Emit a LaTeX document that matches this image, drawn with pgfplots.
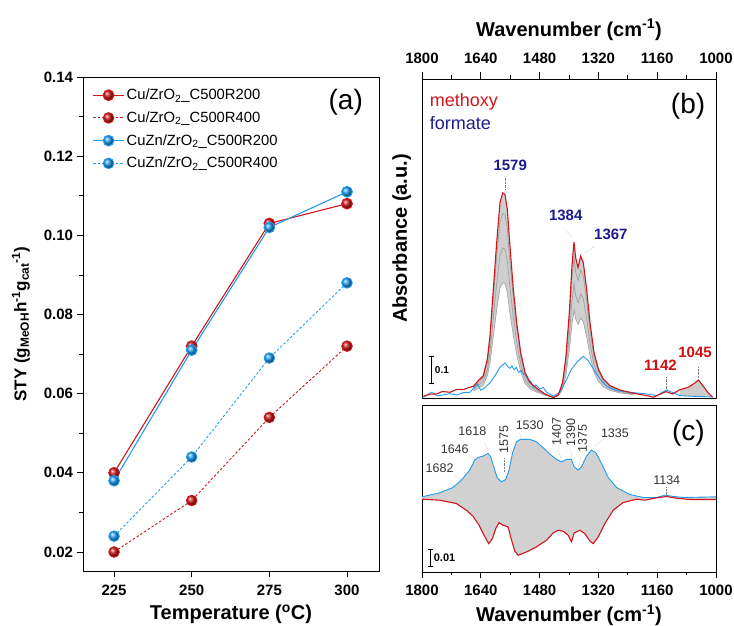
\documentclass[border=0pt]{standalone}
\usepackage{pgfplots}
\pgfplotsset{compat=1.18}
\usepackage{fontspec}
\setmainfont{Liberation Sans}

\definecolor{cured}{HTML}{D0161B}
\definecolor{cublue}{HTML}{1E9BF0}
\definecolor{navy}{HTML}{1C1C8E}
\definecolor{lblred}{HTML}{D01010}
\definecolor{specgray}{HTML}{A0A0A0}

\newcommand{\fsz}[1]{\fontsize{#1}{#1}\selectfont}

\pgfplotsset{
  panel/.style={
    scale only axis,
    /pgf/number format/assume math mode=true,
    /pgf/number format/1000 sep={},
    tick align=outside,
    major tick length=6.5pt,
    minor tick length=3.5pt,
    every tick/.style={black, line width=0.8pt},
    axis line style={line width=0.9pt},
    ticklabel style={font=\fsz{15}\bfseries},
    label style={font=\fsz{20}\bfseries},
  },
  spec/.style={
    panel,
    width=294pt,
    xmin=1000, xmax=1800, x dir=reverse,
    xtick={1000,1160,1320,1480,1640,1800},
    minor xtick={1080,1240,1400,1560,1720},
    ytick=\empty,
    clip=false,
  },
}

\begin{document}
\begin{tikzpicture}
\useasboundingbox (0pt,0pt) rectangle (734pt,626pt);

% ---------------- (a) space-time yield ----------------
\begin{axis}[
  panel,
  at={(83pt,55pt)}, anchor=south west,
  width=296pt, height=494pt,
  xmin=215, xmax=310.3, ymin=0.0152, ymax=0.14,
  xtick={225,250,275,300},
  ytick={0.02,0.04,0.06,0.08,0.10,0.12,0.14},
  minor ytick={0.03,0.05,0.07,0.09,0.11,0.13},
  tick pos=left,
  yticklabel style={/pgf/number format/.cd, fixed, fixed zerofill, precision=2},
  xticklabel style={yshift=-4pt},
  xlabel={Temperature (\textsuperscript{o}C)},
  xlabel style={yshift=-2pt},
  ylabel={STY (g\textsubscript{MeOH}h\textsuperscript{-1}g\textsubscript{cat}\textsuperscript{-1})},
  ylabel style={font=\fsz{17}\bfseries, yshift=7pt},
  legend style={draw=none, fill=none, at={(0.028,0.982)}, anchor=north west,
    font=\fsz{14.8}, row sep=6.5pt, inner sep=1pt},
  legend cell align=left,
  legend image code/.code={\draw[mark repeat=2,mark phase=2,#1] plot coordinates {(0pt,0pt) (15.5pt,0pt) (31pt,0pt)};},
]
\addplot[cured, line width=1.1pt, mark=ball, mark size=5.3pt, mark options={ball color=cured}]
  coordinates {(225,0.040) (250,0.072) (275,0.103) (300,0.108)};
\addlegendentry{Cu/ZrO\textsubscript{2}\_C500R200}
\addplot[cured, line width=0.9pt, dash pattern=on 2.5pt off 2pt, mark=ball, mark size=5.3pt, mark options={solid, ball color=cured}]
  coordinates {(225,0.020) (250,0.033) (275,0.054) (300,0.072)};
\addlegendentry{Cu/ZrO\textsubscript{2}\_C500R400}
\addplot[cublue, line width=1.1pt, mark=ball, mark size=5.3pt, mark options={ball color=cublue}]
  coordinates {(225,0.038) (250,0.071) (275,0.102) (300,0.111)};
\addlegendentry{CuZn/ZrO\textsubscript{2}\_C500R200}
\addplot[cublue, line width=0.9pt, dash pattern=on 2.5pt off 2pt, mark=ball, mark size=5.3pt, mark options={solid, ball color=cublue}]
  coordinates {(225,0.024) (250,0.044) (275,0.069) (300,0.088)};
\addlegendentry{CuZn/ZrO\textsubscript{2}\_C500R400}
\node[font=\fsz{28}] at (axis cs:299.6,0.1335) {(a)};
\end{axis}

% ---------------- (b) IR spectra, methoxy / formate ----------------
\begin{axis}[
  spec,
  at={(422pt,228pt)}, anchor=south west,
  height=319pt,
  ymin=-0.004, ymax=1.181,
  xtick pos=right, xticklabel pos=right,
  xticklabel style={yshift=5pt},
  xlabel={Wavenumber (cm\textsuperscript{-1})},
  xlabel style={yshift=6pt},
  ylabel={Absorbance (a.u.)},
  ylabel style={yshift=1pt},
]
% dense family of intermediate spectra (band between last and lowest grey spectrum)
\addplot[fill=gray!38, draw=none, forget plot] coordinates {
(1660.3,0.0395) (1646.7,0.0605) (1633.1,0.0790) (1622.2,0.1407) (1615.0,0.2272)
(1605.9,0.4000) (1596.8,0.5728) (1587.8,0.7210) (1580.5,0.7580) (1574.2,0.7518)
(1567.8,0.6963) (1560.6,0.5605) (1551.5,0.4000) (1542.4,0.2765) (1531.5,0.1654)
(1519.7,0.0914) (1506.1,0.0543) (1488.0,0.0321) (1465.3,0.0111) (1442.6,-0.0025)
(1429.0,0.0074) (1417.3,0.0543) (1408.2,0.1531) (1399.1,0.3136) (1391.9,0.4864)
(1386.4,0.5753) (1381.9,0.5173) (1375.5,0.4802) (1368.3,0.5235) (1361.0,0.4988)
(1352.0,0.4000) (1342.9,0.2765) (1332.0,0.1654) (1320.2,0.1037) (1306.6,0.0667)
(1288.5,0.0420) (1261.3,0.0259) (1225.0,0.0136)
(1225,0.008) (1261,0.015) (1288,0.024) (1307,0.038) (1320,0.058) (1332,0.092)
(1343,0.155) (1352,0.224) (1361,0.279) (1368,0.293) (1375,0.269) (1382,0.290)
(1386,0.322) (1392,0.272) (1399,0.176) (1408,0.086) (1417,0.030) (1429,0.004)
(1443,-0.001) (1465,0.006) (1488,0.018) (1506,0.030) (1520,0.051) (1531,0.092)
(1542,0.155) (1551,0.224) (1561,0.314) (1568,0.390) (1574,0.421) (1580,0.424)
(1588,0.404) (1597,0.321) (1606,0.224) (1615,0.127) (1622,0.079) (1633,0.044)
(1660,0.022)} -- cycle;
\addplot[fill=gray!40, draw=none, forget plot] coordinates {
(1100,0.004) (1098.0,0.0272) (1075.3,0.0358) (1057.2,0.0519) (1048.1,0.0630)
(1034.5,0.0395) (1020.9,0.0148) (1009.1,0.002)} -- cycle;
\addplot[specgray, line width=0.7pt] coordinates {
(1660,0.036) (1633,0.071) (1622,0.127) (1615,0.204) (1606,0.360) (1597,0.516)
(1588,0.649) (1580,0.682) (1574,0.677) (1568,0.626) (1561,0.505) (1551,0.360)
(1542,0.249) (1531,0.149) (1520,0.082) (1506,0.049) (1488,0.029) (1465,0.010)
(1443,-0.002) (1429,0.006) (1417,0.049) (1408,0.138) (1399,0.283) (1392,0.437)
(1386,0.518) (1382,0.465) (1375,0.432) (1368,0.472) (1361,0.449) (1352,0.360)
(1343,0.249) (1332,0.149) (1320,0.094) (1307,0.060) (1288,0.038) (1261,0.023) (1225,0.013)};
\addplot[specgray, line width=0.7pt] coordinates {
(1660,0.029) (1633,0.058) (1622,0.103) (1615,0.166) (1606,0.292) (1597,0.418)
(1588,0.526) (1580,0.553) (1574,0.549) (1568,0.508) (1561,0.410) (1551,0.292)
(1542,0.202) (1531,0.120) (1520,0.066) (1506,0.039) (1488,0.023) (1465,0.008)
(1443,-0.001) (1429,0.005) (1417,0.039) (1408,0.112) (1399,0.229) (1392,0.355)
(1386,0.420) (1382,0.377) (1375,0.350) (1368,0.383) (1361,0.364) (1352,0.292)
(1343,0.202) (1332,0.120) (1320,0.076) (1307,0.049) (1288,0.031) (1261,0.019) (1225,0.010)};
\addplot[gray!70, line width=0.7pt] coordinates {
(1660,0.022) (1633,0.044) (1622,0.079) (1615,0.127) (1606,0.224) (1597,0.321)
(1588,0.404) (1580,0.424) (1574,0.421) (1568,0.390) (1561,0.314) (1551,0.224)
(1542,0.155) (1531,0.092) (1520,0.051) (1506,0.030) (1488,0.018) (1465,0.006)
(1443,-0.001) (1429,0.004) (1417,0.030) (1408,0.086) (1399,0.176) (1392,0.272)
(1386,0.322) (1382,0.290) (1375,0.269) (1368,0.293) (1361,0.279) (1352,0.224)
(1343,0.155) (1332,0.092) (1320,0.058) (1307,0.038) (1288,0.024) (1261,0.015) (1225,0.008)};
% first spectrum (formate)
\addplot[cublue, line width=0.9pt] coordinates {
(1796.4,-0.0012) (1773.7,0.0173) (1758,0.004) (1742.0,0.0074) (1725,0.012) (1705.7,0.0074)
(1688,0.016) (1669.4,0.0173) (1649.4,0.0481) (1640,0.025) (1633.1,0.0296) (1615.0,0.0519)
(1601.4,0.0790) (1587.8,0.1099) (1574.2,0.1259) (1566,0.112) (1560.6,0.1062) (1555,0.115)
(1549.7,0.1012) (1543,0.110) (1537.9,0.0914) (1530,0.098) (1524.3,0.0852) (1517,0.080)
(1510.7,0.0605) (1504,0.058) (1497.1,0.0358) (1490,0.045) (1479.0,0.0296) (1470,0.035)
(1460.8,0.0173) (1442.6,0.0025) (1424.5,0.0173) (1408.2,0.0605) (1392.8,0.1037)
(1374.6,0.1346) (1361.0,0.1506) (1347.4,0.1346) (1333.8,0.1037) (1315.7,0.0667)
(1297.5,0.0395) (1270.3,0.0235) (1234.0,0.0173) (1188.7,0.0111) (1161.5,0.0049)
(1134.3,0.0259) (1116.1,0.0148) (1098.0,0.0049) (1060,0.002) (1010,0.000)};
% last spectrum (methoxy + formate)
\addplot[cured, line width=1.1pt] coordinates {
(1796.4,0.0025) (1780,0.010) (1760.1,0.0111) (1745,0.020) (1723.8,0.0173) (1705,0.028)
(1687.5,0.0272) (1672,0.035) (1660.3,0.0395) (1646.7,0.0605) (1633.1,0.0790)
(1622.2,0.1407) (1615.0,0.2272) (1605.9,0.4000) (1596.8,0.5728) (1587.8,0.7210)
(1580.5,0.7580) (1574.2,0.7518) (1567.8,0.6963) (1560.6,0.5605) (1551.5,0.4000)
(1542.4,0.2765) (1531.5,0.1654) (1519.7,0.0914) (1506.1,0.0543) (1488.0,0.0321)
(1465.3,0.0111) (1442.6,-0.0025) (1429.0,0.0074) (1417.3,0.0543) (1408.2,0.1531)
(1399.1,0.3136) (1391.9,0.4864) (1386.4,0.5753) (1381.9,0.5173) (1375.5,0.4802)
(1368.3,0.5235) (1361.0,0.4988) (1352.0,0.4000) (1342.9,0.2765) (1332.0,0.1654)
(1320.2,0.1037) (1306.6,0.0667) (1288.5,0.0420) (1261.3,0.0259) (1225.0,0.0136)
(1188.7,0.0049) (1170.5,-0.0012) (1152.4,0.0099) (1136.1,0.0198) (1118.0,0.0111)
(1098.0,0.0272) (1075.3,0.0358) (1057.2,0.0519) (1048.1,0.0630) (1034.5,0.0395)
(1020.9,0.0148) (1009.1,-0.0012)};
% band assignments
\draw[gray, densely dotted] (axis cs:1574,0.815) -- (axis cs:1574,0.77);
\node[navy, font=\fsz{15}\bfseries] at (axis cs:1560,0.86) {1579};
\draw[gray, densely dotted] (axis cs:1411,0.622) -- (axis cs:1391,0.592);
\node[navy, font=\fsz{15}\bfseries] at (axis cs:1409,0.675) {1384};
\draw[gray, densely dotted] (axis cs:1329,0.560) -- (axis cs:1356,0.536);
\node[navy, font=\fsz{15}\bfseries] at (axis cs:1286,0.604) {1367};
\draw[gray, densely dotted] (axis cs:1136,0.073) -- (axis cs:1136,0.030);
\node[lblred, font=\fsz{15}\bfseries] at (axis cs:1151,0.116) {1142};
\draw[gray, densely dotted] (axis cs:1048,0.110) -- (axis cs:1048,0.068);
\node[lblred, font=\fsz{15}\bfseries] at (axis cs:1057,0.165) {1045};
\node[cured, font=\fsz{18}, anchor=west, inner sep=0pt] at (axis cs:1779,1.096) {methoxy};
\node[navy, font=\fsz{18}, anchor=west, inner sep=0pt] at (axis cs:1779,1.018) {formate};
\node[font=\fsz{28}] at (axis cs:1076,1.078) {(b)};
% scale bar
\draw[line width=0.8pt] (axis cs:1773.6,0.052) -- (axis cs:1773.6,0.152);
\draw[line width=0.8pt] (axis cs:1781,0.052) -- (axis cs:1766,0.052);
\draw[line width=0.8pt] (axis cs:1781,0.152) -- (axis cs:1766,0.152);
\node[font=\fsz{10}\bfseries, anchor=west, inner sep=1pt] at (axis cs:1768,0.100) {0.1};
\end{axis}

% ---------------- (c) difference spectra ----------------
\begin{axis}[
  spec,
  at={(422pt,54pt)}, anchor=south west,
  height=167pt,
  ymin=-0.044, ymax=0.056,
  xtick pos=left, xticklabel pos=left,
  xticklabel style={yshift=-3pt},
  xlabel={Wavenumber (cm\textsuperscript{-1})},
  xlabel style={yshift=-2pt},
]
% envelope of the whole spectral series
\addplot[fill=gray!36, draw=none, forget plot] coordinates {
(1800,0.0010) (1751.9,0.0034) (1715.6,0.0066) (1692.9,0.0110) (1670.2,0.0170)
(1656.5,0.0230) (1647.5,0.0246) (1633.8,0.0254) (1620.2,0.0270) (1613.0,0.0250)
(1604.8,0.0190) (1595.7,0.0126) (1583.9,0.0100) (1572.1,0.0114) (1563.0,0.0170)
(1553.9,0.0270) (1543.0,0.0340) (1532.1,0.0354) (1506.7,0.0354) (1488.6,0.0340)
(1470.4,0.0304) (1452.2,0.0266) (1434.1,0.0234) (1420.5,0.0220) (1406.8,0.0234)
(1393.2,0.0234) (1386.0,0.0190) (1375.1,0.0170) (1366.0,0.0190) (1352.4,0.0254)
(1338.7,0.0290) (1326.9,0.0274) (1311.5,0.0210) (1293.3,0.0126) (1270.6,0.0066)
(1234.3,0.0024) (1198.0,0.0006) (1161.7,0.0006) (1139.0,0.0020) (1120.8,0.0014)
(1089.0,0.0006) (1000,0.0010)
(1000,-0.0006) (1070.9,-0.0006) (1107.2,0.0002) (1134.4,0.0012) (1161.7,0.0004)
(1193.5,-0.0010) (1216.2,-0.0004) (1252.5,-0.0024) (1279.7,-0.0070) (1302.4,-0.0150)
(1320.6,-0.0230) (1334.2,-0.0270) (1343.3,-0.0254) (1356.9,-0.0210) (1370.5,-0.0190)
(1386.0,-0.0206) (1393.2,-0.0260) (1402.3,-0.0220) (1415.9,-0.0196) (1429.5,-0.0190)
(1443.2,-0.0206) (1461.3,-0.0250) (1488.6,-0.0290) (1515.8,-0.0320) (1538.5,-0.0340)
(1547.6,-0.0314) (1556.7,-0.0246) (1565.7,-0.0170) (1579.4,-0.0160) (1590.3,-0.0144)
(1599.3,-0.0180) (1608.4,-0.0240) (1618.4,-0.0270) (1631.1,-0.0220) (1644.7,-0.0160)
(1661.1,-0.0106) (1679.2,-0.0070) (1706.5,-0.0030) (1751.9,-0.0010) (1800,-0.0004)} -- cycle;
\addplot[cublue, line width=0.9pt] coordinates {
(1800,0.0010) (1751.9,0.0034) (1715.6,0.0066) (1692.9,0.0110) (1670.2,0.0170)
(1656.5,0.0230) (1647.5,0.0246) (1633.8,0.0254) (1620.2,0.0270) (1613.0,0.0250)
(1604.8,0.0190) (1595.7,0.0126) (1583.9,0.0100) (1572.1,0.0114) (1563.0,0.0170)
(1553.9,0.0270) (1543.0,0.0340) (1532.1,0.0354) (1506.7,0.0354) (1488.6,0.0340)
(1470.4,0.0304) (1452.2,0.0266) (1434.1,0.0234) (1420.5,0.0220) (1406.8,0.0234)
(1393.2,0.0234) (1386.0,0.0190) (1375.1,0.0170) (1366.0,0.0190) (1352.4,0.0254)
(1338.7,0.0290) (1326.9,0.0274) (1311.5,0.0210) (1293.3,0.0126) (1270.6,0.0066)
(1234.3,0.0024) (1198.0,0.0006) (1161.7,0.0006) (1139.0,0.0020) (1120.8,0.0014)
(1089.0,0.0006) (1000,0.0010)};
\addplot[cured, line width=1.1pt] coordinates {
(1800,-0.0004) (1751.9,-0.0010) (1706.5,-0.0030) (1679.2,-0.0070) (1661.1,-0.0106)
(1644.7,-0.0160) (1631.1,-0.0220) (1618.4,-0.0270) (1608.4,-0.0240) (1599.3,-0.0180)
(1590.3,-0.0144) (1579.4,-0.0160) (1565.7,-0.0170) (1556.7,-0.0246) (1547.6,-0.0314)
(1538.5,-0.0340) (1515.8,-0.0320) (1488.6,-0.0290) (1461.3,-0.0250) (1443.2,-0.0206)
(1429.5,-0.0190) (1415.9,-0.0196) (1402.3,-0.0220) (1393.2,-0.0260) (1386.0,-0.0206)
(1370.5,-0.0190) (1356.9,-0.0210) (1343.3,-0.0254) (1334.2,-0.0270) (1320.6,-0.0230)
(1302.4,-0.0150) (1279.7,-0.0070) (1252.5,-0.0024) (1216.2,-0.0004) (1193.5,-0.0010)
(1161.7,0.0004) (1134.4,0.0012) (1107.2,0.0002) (1070.9,-0.0006) (1000,-0.0006)};
% band assignments
\tikzset{lead/.style={gray, densely dotted}, bandlbl/.style={font=\fsz{12.5}, text=black!80}}
\draw[lead] (axis cs:1711,0.014) -- (axis cs:1693,0.011);
\node[bandlbl] at (axis cs:1752,0.018) {1682};
\draw[lead] (axis cs:1670,0.026) -- (axis cs:1656,0.0234);
\node[bandlbl] at (axis cs:1711,0.0294) {1646};
\draw[lead] (axis cs:1629,0.033) -- (axis cs:1620,0.029);
\node[bandlbl] at (axis cs:1663,0.0404) {1618};
\draw[lead] (axis cs:1577,0.024) -- (axis cs:1577,0.016);
\node[bandlbl, rotate=90] at (axis cs:1577,0.0354) {1575};
\draw[lead] (axis cs:1534,0.039) -- (axis cs:1529,0.036);
\node[bandlbl] at (axis cs:1507,0.044) {1530};
\draw[lead] (axis cs:1430,0.029) -- (axis cs:1421,0.024);
\node[bandlbl, rotate=90] at (axis cs:1434,0.040) {1407};
\draw[lead] (axis cs:1395,0.029) -- (axis cs:1393,0.024);
\node[bandlbl, rotate=90] at (axis cs:1395,0.0394) {1390};
\draw[lead] (axis cs:1368,0.025) -- (axis cs:1373,0.019);
\node[bandlbl, rotate=90] at (axis cs:1363,0.036) {1375};
\draw[lead] (axis cs:1307,0.0354) -- (axis cs:1330,0.031);
\node[bandlbl] at (axis cs:1275,0.0394) {1335};
\draw[lead] (axis cs:1136,0.0066) -- (axis cs:1136,0.002);
\node[bandlbl] at (axis cs:1134,0.011) {1134};
\node[font=\fsz{28}] at (axis cs:1075,0.039) {(c)};
% scale bar
\draw[line width=0.8pt] (axis cs:1776,-0.0304) -- (axis cs:1776,-0.0404);
\draw[line width=0.8pt] (axis cs:1783,-0.0304) -- (axis cs:1769,-0.0304);
\draw[line width=0.8pt] (axis cs:1783,-0.0404) -- (axis cs:1769,-0.0404);
\node[font=\fsz{11}\bfseries, anchor=west, inner sep=1pt] at (axis cs:1771,-0.0354) {0.01};
\end{axis}
\end{tikzpicture}
\end{document}
